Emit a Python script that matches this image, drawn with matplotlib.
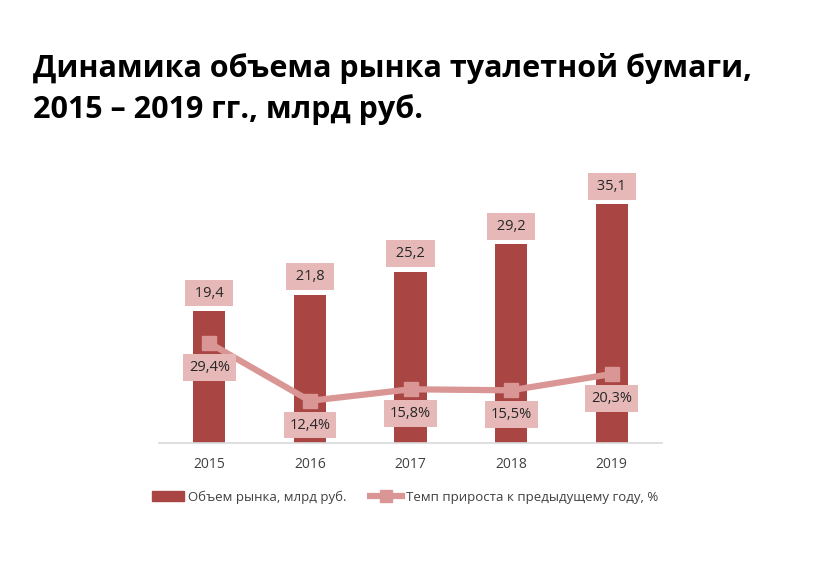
import matplotlib
matplotlib.use("Agg")
import matplotlib.pyplot as plt
import numpy as np
from matplotlib.patches import Patch
from matplotlib.lines import Line2D

plt.rcParams['font.family'] = ['Open Sans', 'DejaVu Sans']

years = ["2015", "2016", "2017", "2018", "2019"]
market = [19.4, 21.8, 25.2, 29.2, 35.1]  # млрд руб.
growth = [29.4, 12.4, 15.8, 15.5, 20.3]  # %
market_labels = ["19,4", "21,8", "25,2", "29,2", "35,1"]
growth_labels = ["29,4%", "12,4%", "15,8%", "15,5%", "20,3%"]

bar_color = "#A94543"
line_color = "#D99694"
box_color = "#E6B9B8"

fig = plt.figure(figsize=(8.19, 5.65), dpi=100)
ax = fig.add_axes([159/819, 1-443/565, (662-159)/819, (443-171)/565])
ax2 = ax.twinx()

x = np.arange(len(years))
ax.bar(x, market, width=0.32, color=bar_color, zorder=2)
ax2.plot(x, growth, color=line_color, lw=4.5, marker='s', markersize=10, zorder=3)

ax.set_xlim(-0.5, 4.5)
ax.set_ylim(0, 40)
ax2.set_ylim(0, 80)

for a in (ax, ax2):
    for s in a.spines.values():
        s.set_visible(False)
    a.set_yticks([])
ax.spines['bottom'].set_visible(True)
ax.spines['bottom'].set_color("#D9D9D9")
ax.spines['bottom'].set_linewidth(1.2)
ax.set_xticks(x)
ax.set_xticklabels(years, fontsize=10, color="#404040")
ax.tick_params(axis='x', length=0, pad=10)

# подписи данных
for i in range(len(years)):
    ax.annotate(" " + market_labels[i] + " ", (x[i], market[i]), xytext=(0, 13), textcoords='offset points',
                ha='center', va='center', fontsize=10.5, color="#262626",
                bbox=dict(boxstyle='square,pad=0.4', fc=box_color, ec='none'), zorder=5)
    ax2.annotate(growth_labels[i], (x[i], growth[i]), xytext=(0, -17.5), textcoords='offset points',
                 ha='center', va='center', fontsize=10.5, color="#262626",
                 bbox=dict(boxstyle='square,pad=0.4', fc=box_color, ec='none'), zorder=5)

fig.text(33/819, 1-68/565, "Динамика объема рынка туалетной бумаги,", fontsize=22, fontweight='bold', va='center')
fig.text(33/819, 1-110/565, "2015 – 2019 гг., млрд руб.", fontsize=22, fontweight='bold', va='center')

handles = [Patch(color=bar_color),
           Line2D([0], [0], color=line_color, lw=4.5, marker='s', markersize=8)]
fig.legend(handles, ["Объем рынка, млрд руб.", "Темп прироста к предыдущему году, %"],
           loc='center', bbox_to_anchor=(405/819, 1-497/565), ncol=2, frameon=False,
           fontsize=9.5, handlelength=2.4, columnspacing=1.8, handletextpad=0.3, labelcolor="#404040")

fig.savefig("out.png", dpi=100)
